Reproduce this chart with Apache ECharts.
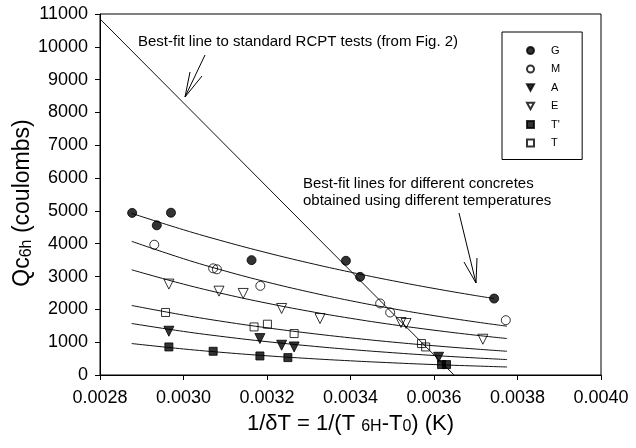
<!DOCTYPE html>
<html>
<head>
<meta charset="utf-8">
<script src="https://cdn.jsdelivr.net/npm/echarts@6/dist/echarts.min.js"></script>
<style>
html,body{margin:0;padding:0;background:#fff;}
#c{width:636px;height:448px;}
</style>
</head>
<body>
<div id="c"></div>
<script>
// ---- data ----
const xTicks = [0.0028, 0.0030, 0.0032, 0.0034, 0.0036, 0.0038, 0.0040];
const yTicks = [0, 1000, 2000, 3000, 4000, 5000, 6000, 7000, 8000, 9000, 10000, 11000];

// scatter points
const G_x  = [0.002877, 0.002936, 0.00297, 0.003163, 0.003389, 0.003423, 0.003744];
const G_y  = [4940, 4560, 4945, 3500, 3480, 2990, 2330];
const M_x  = [0.00293, 0.003071, 0.00308, 0.003184, 0.003471, 0.003495, 0.003772];
const M_y  = [3970, 3250, 3220, 2717, 2180, 1905, 1670];
const A_x  = [0.002965, 0.003183, 0.003235, 0.003265, 0.003611];
const A_y  = [1334, 1110, 907, 855, 540];
const E_x  = [0.002965, 0.003085, 0.003143, 0.003235, 0.003327, 0.003521, 0.003533, 0.003717];
const E_y  = [2770, 2555, 2485, 2027, 1720, 1600, 1570, 1090];
const Tp_x = [0.002965, 0.003071, 0.003183, 0.00325, 0.003618, 0.00363];
const Tp_y = [855, 723, 580, 530, 318, 318];
const T_x  = [0.002957, 0.003169, 0.003201, 0.003265, 0.00357, 0.00358];
const T_y  = [1905, 1465, 1548, 1263, 958, 855];

// best-fit curves
const fitX   = [0.002876, 0.0030, 0.0031, 0.0032, 0.0033, 0.0034, 0.0035, 0.0036, 0.0037, 0.003775];
const fitGX  = [0.002876, 0.0030, 0.0031, 0.0032, 0.0033, 0.0034, 0.0035, 0.0036, 0.0037, 0.003744];
const fitG   = [4925, 4425, 4060, 3724, 3416, 3134, 2875, 2637, 2419, 2330];
const fitM   = [4072, 3543, 3168, 2832, 2532, 2263, 2023, 1809, 1617, 1487];
const fitE   = [3205, 2769, 2461, 2188, 1944, 1728, 1536, 1365, 1213, 1111];
const fitT   = [2118, 1826, 1620, 1438, 1276, 1132, 1004, 891, 791, 723];
const fitA   = [1569, 1328, 1162, 1016, 889, 777, 680, 594, 520, 470];
const fitTp  = [958, 793, 681, 585, 503, 432, 371, 318, 274, 244];

// RCPT best-fit straight line (end points)
const rcptX = [0.0028, 0.003648];
const rcptY = [10850, 0];

// ---- chart ----
const FONT = 'Liberation Sans, Arial, sans-serif';
const zip = (xs, ys) => xs.map((x, i) => [x, ys[i]]);
const downTri = 'path://M0,0L10,0L5,9Z';

const chart = echarts.init(document.getElementById('c'), null, {renderer: 'canvas'});

function fitSeries(xs, ys) {
  return {
    type: 'line', data: zip(xs, ys), smooth: 0.4, showSymbol: false, symbol: 'none',
    lineStyle: {color: '#111', width: 1}, silent: true, z: 2
  };
}
function scat(name, xs, ys, symbol, filled, size) {
  return {
    name, type: 'scatter', data: zip(xs, ys), symbol, symbolSize: size,
    itemStyle: filled ? {color: '#000', borderColor: '#000', borderWidth: 1}
                      : {color: 'rgba(0,0,0,0)', borderColor: '#000', borderWidth: 1},
    z: 5
  };
}
const richSub = (big, small) => ({
  a: {fontSize: big, lineHeight: big + 4, verticalAlign: 'bottom', fontFamily: FONT, color: '#000'},
  s: {fontSize: small, lineHeight: 10, verticalAlign: 'bottom', fontFamily: FONT, color: '#000'}
});

const option = {
  animation: false,
  backgroundColor: '#fff',
  grid: {left: 100, right: 35, top: 14, bottom: 73, show: true, borderColor: '#000', borderWidth: 1},
  xAxis: {
    type: 'value', min: xTicks[0], max: xTicks[xTicks.length - 1], interval: 0.0002,
    axisLine: {lineStyle: {color: '#000', width: 1}},
    axisTick: {show: true, length: 5, lineStyle: {color: '#000'}},
    splitLine: {show: false},
    axisLabel: {color: '#000', fontSize: 18, fontFamily: FONT, margin: 14,
      formatter: v => v.toFixed(4)},
    name: '{a|1/δT = 1/(T }{s|6H}{a|-T}{s|0}{a|) (K)}',
    nameLocation: 'middle', nameGap: 34,
    nameTextStyle: {color: '#000', fontFamily: FONT, rich: richSub(22, 16)}
  },
  yAxis: {
    type: 'value', min: yTicks[0], max: yTicks[yTicks.length - 1], interval: 1000,
    axisLine: {show: true, lineStyle: {color: '#000', width: 1}},
    axisTick: {show: true, length: 5, lineStyle: {color: '#000'}},
    splitLine: {show: false},
    axisLabel: {color: '#000', fontSize: 18, fontFamily: FONT, margin: 12,
      formatter: v => String(v)}
  },
  legend: {
    orient: 'vertical', left: 502, top: 32,
    padding: [13, 22, 11, 24],
    itemWidth: 7, itemHeight: 7, itemGap: 7.5,
    borderColor: '#000', borderWidth: 1,
    textStyle: {color: '#000', fontSize: 11, fontFamily: FONT, padding: [0, 0, 0, 12]},
    data: ['G', 'M', 'A', 'E', "T'", 'T'],
    selectedMode: false
  },
  series: [
    {type: 'line', data: zip(rcptX, rcptY), showSymbol: false, symbol: 'none',
     lineStyle: {color: '#111', width: 1}, silent: true, z: 2},
    fitSeries(fitGX, fitG),
    fitSeries(fitX, fitM),
    fitSeries(fitX, fitE),
    fitSeries(fitX, fitT),
    fitSeries(fitX, fitA),
    fitSeries(fitX, fitTp),
    scat('G', G_x, G_y, 'circle', true, 9),
    scat('M', M_x, M_y, 'circle', false, 9),
    scat('A', A_x, A_y, downTri, true, 10),
    scat('E', E_x, E_y, downTri, false, 10),
    scat("T'", Tp_x, Tp_y, 'rect', true, 8),
    scat('T', T_x, T_y, 'rect', false, 8)
  ],
  graphic: [
    {type: 'text', x: 21, y: 203, rotation: Math.PI / 2, silent: true,
     style: {text: '{a|Qc}{s|6h}{a| (coulombs)}', rich: richSub(23, 16),
             align: 'center', verticalAlign: 'middle', fill: '#000'}},
    {type: 'text', left: 138, top: 34, silent: true,
     style: {text: 'Best-fit line to standard RCPT tests (from Fig. 2)', fill: '#000', font: '15px ' + FONT}},
    {type: 'text', left: 303, top: 176, silent: true,
     style: {text: 'Best-fit lines for different concretes\nobtained using different temperatures',
             fill: '#000', font: '15px ' + FONT, lineHeight: 16.5}},
    {type: 'polyline', silent: true, shape: {points: [[205, 55], [185, 97]]}, style: {stroke: '#000', lineWidth: 1}},
    {type: 'polyline', silent: true, shape: {points: [[190, 72], [185, 97], [202, 76]]}, style: {stroke: '#000', lineWidth: 1, fill: null}},
    {type: 'polyline', silent: true, shape: {points: [[459, 213], [476, 283]]}, style: {stroke: '#000', lineWidth: 1}},
    {type: 'polyline', silent: true, shape: {points: [[477, 258], [476, 283], [464, 262]]}, style: {stroke: '#000', lineWidth: 1, fill: null}}
  ]
};
chart.setOption(option);
</script>
</body>
</html>
